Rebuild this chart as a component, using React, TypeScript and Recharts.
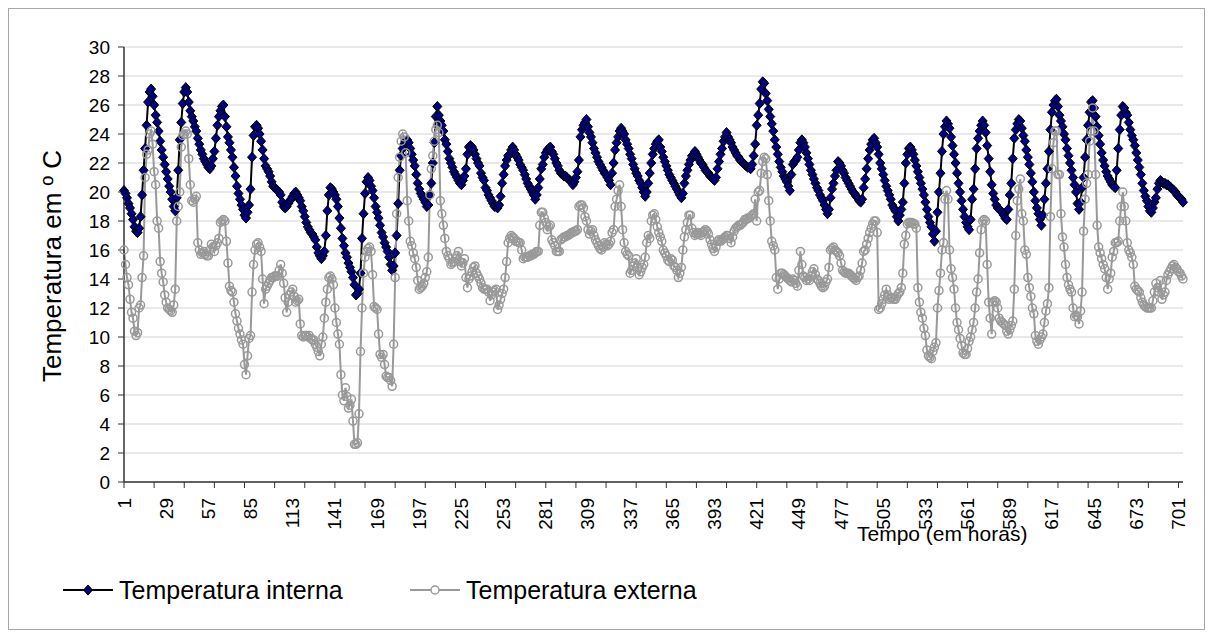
import React from 'react';
import { LineChart, Line, XAxis, YAxis, CartesianGrid } from 'recharts';

// Temperatura interna (°C), one value per hour, hours 1..704
const interna: number[] = [
  20.1, 19.9, 19.6, 19.2, 18.9, 18.5, 18.1, 17.6, 17.3, 17.2,
  17.5, 18.3, 19.8, 21.5, 23.0, 24.6, 26.2, 26.9, 27.1, 26.6,
  26.0, 25.3, 24.8, 24.2, 23.5, 22.9, 22.4, 21.9, 21.4, 20.9,
  20.4, 20.0, 19.5, 19.0, 18.7, 19.6, 21.5, 23.6, 24.8, 26.1,
  26.9, 27.2, 26.9, 26.2, 25.6, 25.2, 24.9, 24.5, 24.2, 23.7,
  23.3, 22.9, 22.6, 22.3, 22.1, 21.9, 21.7, 21.6, 21.8, 22.3,
  22.8, 23.7, 24.6, 25.2, 25.6, 25.9, 26.0, 25.2, 24.5, 23.8,
  23.4, 22.9, 22.4, 21.7, 21.1, 20.4, 19.9, 19.5, 19.1, 18.8,
  18.4, 18.2, 18.6, 19.1, 20.2, 22.4, 23.9, 24.5, 24.6, 24.4,
  24.0, 23.5, 22.9, 22.3, 21.8, 21.6, 21.4, 21.1, 20.7, 20.4,
  20.3, 20.2, 20.1, 20.0, 19.8, 19.3, 19.0, 18.9, 19.0, 19.2,
  19.4, 19.5, 19.7, 19.9, 20.0, 19.8, 19.6, 19.4, 19.0, 18.7,
  18.3, 17.9, 17.6, 17.4, 17.2, 17.1, 16.9, 16.7, 16.2, 15.8,
  15.6, 15.4, 15.6, 15.9, 17.0, 18.7, 19.8, 20.3, 20.2, 20.0,
  19.8, 19.5, 19.0, 18.2, 17.5, 16.8, 16.3, 15.8, 15.5, 15.1,
  14.8, 14.5, 14.1, 13.6, 12.9, 13.0, 13.3, 14.4, 16.8, 18.5,
  19.9, 20.7, 21.0, 20.8, 20.4, 20.1, 19.6, 19.0, 18.6, 18.2,
  17.7, 17.2, 16.9, 16.5, 16.2, 15.9, 15.5, 15.0, 14.6, 14.9,
  15.8, 17.0, 19.2, 21.5, 22.5, 23.0, 23.3, 23.5, 23.6, 23.4,
  23.0, 22.6, 22.2, 21.8, 21.2, 20.6, 20.2, 19.9, 19.7, 19.5,
  19.3, 19.0, 19.1, 19.8, 20.6, 22.0, 23.4, 25.2, 25.9, 25.3,
  24.9, 24.6, 24.2, 23.6, 23.3, 22.8, 22.3, 22.0, 21.7, 21.4,
  21.2, 21.0, 20.8, 20.6, 20.5, 20.8, 21.1, 21.6, 22.6, 23.1,
  23.2, 23.1, 22.9, 22.6, 22.3, 22.0, 21.8, 21.3, 21.0, 20.8,
  20.3, 20.1, 19.8, 19.6, 19.4, 19.2, 19.0, 19.0, 18.9, 19.1,
  19.7, 20.6, 21.2, 21.8, 22.2, 22.5, 22.6, 22.9, 23.1, 22.9,
  22.6, 22.4, 22.2, 21.9, 21.7, 21.5, 21.2, 20.9, 20.6, 20.4,
  20.2, 20.0, 19.8, 19.5, 19.8, 20.3, 20.9, 21.6, 21.9, 22.4,
  22.7, 22.9, 23.0, 23.1, 22.8, 22.6, 22.3, 22.0, 21.8, 21.5,
  21.3, 21.2, 21.1, 21.1, 21.0, 20.9, 20.8, 20.7, 20.5, 20.7,
  21.0, 21.4, 22.2, 23.8, 24.3, 24.6, 24.8, 25.0, 24.5, 24.1,
  23.8, 23.4, 23.0, 22.7, 22.4, 22.1, 21.9, 21.7, 21.5, 21.3,
  21.2, 21.0, 20.8, 20.5, 21.3, 22.0, 22.9, 23.4, 23.8, 24.2,
  24.4, 24.2, 24.0, 23.6, 23.3, 23.0, 22.6, 22.3, 21.9, 21.6,
  21.3, 21.1, 20.8, 20.6, 20.3, 20.0, 19.7, 20.0, 20.6, 21.3,
  22.0, 22.6, 23.0, 23.3, 23.5, 23.6, 23.1, 22.8, 22.4, 22.1,
  21.8, 21.5, 21.2, 21.0, 20.8, 20.6, 20.4, 20.2, 20.0, 19.8,
  19.6, 19.9, 20.6, 21.1, 21.5, 21.9, 22.2, 22.5, 22.6, 22.8,
  22.6, 22.4, 22.2, 22.0, 21.9, 21.7, 21.5, 21.4, 21.3, 21.1,
  21.0, 20.9, 20.8, 21.0, 21.6, 22.1, 22.6, 23.0, 23.5, 23.8,
  24.1, 23.8, 23.6, 23.4, 23.1, 22.9, 22.7, 22.5, 22.4, 22.2,
  22.1, 22.0, 21.9, 21.8, 21.7, 21.7, 21.6, 21.9, 22.5, 23.3,
  24.6, 25.3, 26.1, 27.1, 27.6, 27.5, 26.8, 26.3, 25.7, 25.2,
  24.7, 24.2, 23.6, 23.1, 22.6, 22.1, 21.7, 21.4, 21.1, 20.9,
  20.7, 20.4, 20.1, 21.2, 21.9, 22.1, 22.2, 22.4, 22.9, 23.4,
  23.6, 23.4, 23.1, 22.7, 22.3, 21.9, 21.5, 21.2, 20.9, 20.6,
  20.3, 20.1, 19.8, 19.6, 19.4, 19.1, 18.8, 18.5, 18.8, 19.6,
  20.2, 20.6, 21.1, 21.5, 22.1, 22.0, 21.8, 21.5, 21.3, 21.0,
  20.8, 20.6, 20.4, 20.2, 20.0, 19.9, 19.7, 19.6, 19.4, 19.3,
  19.5, 20.3, 20.9, 21.6, 22.3, 22.9, 23.3, 23.6, 23.7, 23.4,
  23.1, 22.6, 22.0, 21.6, 21.2, 20.8, 20.4, 20.1, 19.8, 19.5,
  19.1, 18.9, 18.7, 18.3, 18.0, 18.4, 18.8, 19.3, 20.6, 22.0,
  22.6, 23.0, 23.1, 22.9, 22.6, 22.2, 21.8, 21.4, 21.0, 20.6,
  20.2, 19.8, 19.3, 18.8, 18.3, 17.9, 17.6, 17.1, 16.6, 17.3,
  18.6, 20.0, 21.3, 22.8, 24.0, 24.5, 24.9, 24.7, 24.4, 23.8,
  23.2, 22.6, 22.0, 21.3, 20.6, 20.0, 19.4, 18.8, 18.3, 17.9,
  17.6, 17.4, 18.1, 19.5, 20.2, 21.6, 23.0, 23.7, 24.2, 24.6,
  24.9, 24.6, 24.1, 23.2, 22.3, 21.4, 20.5, 19.9, 19.5, 19.1,
  18.9, 18.8, 18.7, 18.6, 18.4, 18.2, 18.1, 18.8, 19.8, 20.6,
  22.3, 23.7, 24.3, 24.7, 25.0, 24.9, 24.4, 23.9, 23.5, 22.9,
  22.4, 21.9, 21.3, 20.7, 20.0, 19.4, 18.9, 18.5, 18.1, 17.7,
  18.4, 19.5, 20.6, 21.6, 22.8, 24.3, 25.5, 26.0, 26.3, 26.4,
  25.9, 25.3, 24.9, 24.5, 24.0, 23.6, 23.0, 22.5, 22.0, 21.5,
  21.0, 20.5, 20.0, 19.2, 18.8, 19.3, 20.3, 21.0, 22.4, 23.6,
  24.6, 25.5, 26.2, 26.3, 25.8, 25.2, 24.5, 23.9, 23.3, 22.7,
  22.2, 21.8, 21.4, 21.1, 20.9, 20.7, 20.5, 20.4, 20.3, 21.5,
  23.0, 24.3, 25.3, 25.9, 25.8, 25.5, 25.3, 24.8, 24.3, 23.9,
  23.6, 23.2, 22.7, 22.2, 21.7, 21.2, 20.6, 20.1, 19.7, 19.4,
  19.0, 18.7, 18.6, 18.9, 19.3, 19.6, 20.2, 20.6, 20.8, 20.7,
  20.6, 20.6, 20.5, 20.5, 20.4, 20.3, 20.2, 20.1, 20.0, 19.8,
  19.7, 19.6, 19.5, 19.3,
];

// Temperatura externa (°C), one value per hour, hours 1..704
const externa: number[] = [
  16.0, 15.0, 14.1, 13.6, 12.6, 11.7, 11.3, 10.4, 10.1, 10.3,
  12.0, 12.2, 14.1, 15.6, 21.0, 22.6, 22.9, 24.0, 24.2, 23.3,
  21.4, 20.5, 18.0, 17.5, 15.2, 14.4, 13.8, 12.9, 12.4, 12.0,
  11.9, 11.8, 11.7, 12.2, 13.3, 18.0, 19.0, 20.0, 23.1, 23.9,
  24.0, 24.2, 24.0, 22.3, 20.5, 19.4, 19.3, 19.5, 19.7, 16.5,
  16.0, 15.7, 15.8, 15.9, 15.7, 15.6, 15.6, 16.0, 16.4, 16.2,
  15.9, 16.3, 16.5, 16.8, 17.9, 18.0, 18.1, 18.0, 16.6, 15.1,
  13.5, 13.2, 13.1, 12.4, 11.6, 11.1, 10.6, 10.2, 9.8, 9.5,
  8.1, 7.4, 8.7, 9.9, 10.1, 13.1, 15.0, 16.0, 16.4, 16.5,
  16.2, 15.9, 14.0, 12.3, 13.3, 13.5, 13.7, 13.9, 14.1, 14.1,
  14.2, 14.2, 14.2, 14.6, 15.0, 14.4, 13.7, 12.7, 11.7, 12.4,
  12.9, 13.1, 13.3, 12.8, 12.4, 12.5, 12.6, 10.9, 10.1, 10.0,
  10.1, 10.1, 10.0, 10.1, 9.9, 9.8, 9.8, 9.5, 9.3, 9.0,
  8.7, 9.5, 10.0, 11.3, 12.4, 13.3, 14.1, 14.2, 14.0, 13.6,
  12.0, 11.0, 10.2, 9.5, 7.4, 6.0, 5.6, 6.5, 5.9, 5.1,
  5.3, 5.7, 4.2, 2.6, 2.6, 2.7, 4.7, 9.0, 12.0, 14.4,
  15.5, 15.9, 16.1, 16.2, 15.9, 14.3, 12.1, 12.0, 11.9, 10.2,
  8.8, 8.6, 8.8, 8.1, 7.3, 7.2, 7.2, 7.0, 6.6, 9.5,
  14.1, 18.5, 21.0, 22.4, 23.5, 24.0, 23.8, 22.7, 19.4, 18.0,
  16.6, 16.3, 15.8, 15.4, 14.8, 13.9, 13.3, 13.4, 13.5, 13.7,
  14.1, 14.5, 15.5, 19.8, 21.6, 22.5, 23.5, 24.3, 24.6, 24.1,
  19.4, 18.5, 17.7, 16.8, 15.9, 15.6, 15.4, 15.0, 15.1, 15.2,
  15.4, 15.6, 15.9, 15.2, 14.9, 15.1, 15.4, 14.1, 13.4, 14.0,
  14.2, 14.5, 14.8, 14.9, 14.4, 14.2, 14.0, 13.7, 13.4, 13.3,
  13.3, 13.3, 13.1, 12.5, 12.9, 13.1, 13.2, 13.3, 11.9, 12.2,
  12.6, 13.0, 13.3, 14.1, 15.2, 16.5, 16.8, 17.0, 16.9, 16.8,
  16.6, 16.6, 16.5, 16.5, 16.0, 15.4, 15.5, 15.5, 15.5, 15.6,
  15.6, 15.7, 15.7, 15.8, 15.9, 15.9, 17.7, 18.6, 18.6, 18.2,
  17.9, 17.4, 17.6, 17.7, 16.7, 16.5, 16.3, 15.9, 15.9, 15.9,
  16.7, 16.8, 16.9, 16.9, 17.0, 17.0, 17.1, 17.2, 17.2, 17.3,
  17.3, 17.4, 19.0, 19.1, 19.1, 18.9, 18.3, 18.0, 17.4, 17.1,
  17.3, 17.4, 17.0, 16.7, 16.5, 16.3, 16.1, 16.0, 16.2, 16.5,
  16.4, 16.3, 16.4, 16.6, 17.2, 17.4, 19.0, 19.5, 20.1, 20.5,
  19.0, 17.4, 16.5, 15.9, 15.7, 15.6, 14.4, 14.6, 14.9, 15.1,
  15.4, 14.8, 14.3, 14.5, 14.8, 15.0, 15.5, 16.5, 17.0, 16.8,
  18.0, 18.4, 18.5, 18.1, 17.6, 17.2, 16.9, 16.6, 16.0, 15.8,
  15.6, 15.3, 15.2, 15.4, 15.3, 14.9, 14.8, 14.6, 14.1, 14.4,
  14.8, 16.0, 16.9, 17.4, 17.9, 18.4, 18.4, 17.5, 17.2, 17.0,
  17.1, 17.2, 17.1, 17.0, 17.2, 17.3, 17.4, 17.3, 17.1, 16.7,
  16.4, 16.1, 15.9, 16.2, 16.6, 16.7, 16.6, 16.7, 16.8, 16.9,
  17.0, 17.0, 16.8, 16.5, 16.9, 17.3, 17.5, 17.6, 17.7, 17.7,
  17.8, 17.9, 18.1, 18.1, 18.2, 18.2, 18.3, 18.4, 18.5, 19.5,
  18.0, 20.0, 20.1, 21.3, 22.1, 22.4, 22.3, 21.2, 19.4, 18.0,
  16.6, 16.3, 16.0, 14.1, 13.3, 14.0, 14.4, 14.4, 14.3, 14.2,
  14.1, 14.0, 13.9, 13.8, 14.0, 13.9, 13.7, 13.5, 14.6, 15.9,
  15.0, 14.2, 14.1, 13.9, 14.0, 13.9, 14.2, 14.5, 14.7, 14.3,
  14.0, 13.9, 13.7, 13.5, 13.4, 13.5, 13.8, 14.0, 14.8, 16.0,
  16.1, 16.2, 16.0, 15.9, 15.8, 15.6, 15.1, 14.6, 14.5, 14.4,
  14.4, 14.4, 14.3, 14.2, 14.1, 14.0, 13.9, 14.1, 14.2, 14.6,
  15.1, 15.9, 16.0, 16.4, 16.8, 17.2, 17.5, 17.8, 18.0, 18.0,
  17.2, 11.9, 12.0, 12.3, 12.6, 12.9, 13.3, 12.9, 12.6, 12.7,
  12.7, 12.6, 12.6, 12.8, 13.0, 13.1, 13.4, 14.4, 16.4, 17.0,
  17.8, 17.9, 17.9, 17.9, 17.8, 17.8, 17.5, 13.4, 12.4, 11.7,
  11.3, 10.6, 10.1, 9.1, 8.7, 8.6, 8.5, 9.0, 9.3, 9.6,
  12.0, 13.2, 14.4, 16.0, 16.5, 19.5, 20.1, 19.5, 16.0, 14.7,
  14.1, 13.3, 12.0, 11.0, 10.5, 9.9, 9.4, 8.9, 8.8, 8.8,
  9.2, 9.7, 10.0, 10.5, 11.0, 12.0, 13.1, 14.0, 15.8, 17.4,
  18.0, 18.1, 18.0, 15.0, 12.4, 11.3, 10.2, 12.4, 12.5, 12.4,
  12.0, 11.3, 11.1, 11.0, 10.9, 10.8, 10.4, 10.2, 10.5, 10.8,
  11.1, 13.3, 17.0, 19.4, 20.2, 20.9, 18.5, 18.0, 16.0, 15.7,
  14.1, 13.4, 12.8, 12.0, 11.6, 10.1, 9.7, 9.5, 9.8, 10.0,
  10.2, 11.0, 11.8, 12.3, 13.4, 18.3, 21.6, 23.4, 24.2, 24.2,
  21.2, 21.2, 18.5, 16.9, 16.2, 15.0, 14.1, 13.6, 13.3, 13.1,
  12.0, 11.4, 11.5, 11.4, 10.9, 11.8, 13.1, 17.3, 19.5, 20.6,
  21.2, 23.5, 24.2, 25.8, 24.2, 21.2, 17.7, 16.2, 15.8, 15.4,
  15.0, 14.7, 14.1, 13.3, 14.0, 14.4, 15.5, 15.9, 16.5, 16.5,
  16.6, 18.0, 19.0, 20.0, 19.0, 18.0, 16.5, 16.0, 15.8, 15.5,
  15.0, 13.5, 13.3, 13.2, 13.1, 12.7, 12.4, 12.2, 12.1, 12.0,
  12.0, 12.0, 12.0, 12.5, 13.1, 13.7, 13.4, 13.1, 13.9, 12.6,
  12.9, 13.1, 13.9, 14.3, 14.5, 14.7, 14.9, 15.0, 14.8, 14.7,
  14.5, 14.4, 14.2, 14.0,
];

const yTicks = [0, 2, 4, 6, 8, 10, 12, 14, 16, 18, 20, 22, 24, 26, 28, 30];
const LABEL_STEP = 28; // hour labels 1, 29, 57, ...
const MARK_STEP = 20; // tick marks every 20 hours

const FONT = '"Liberation Sans", Arial, Helvetica, sans-serif';

const n = Math.min(interna.length, externa.length);
const data = Array.from({ length: n }, (_, i) => ({
  hora: i + 1,
  interna: interna[i],
  externa: externa[i],
}));
const xTicks = data
  .map((d) => d.hora)
  .filter((h) => (h - 1) % LABEL_STEP === 0 || (h - 1) % MARK_STEP === 0);

const TICK_SIZE = 6;
const TICK_MARGIN = 10;

function XTick(props: any) {
  const { x, y, payload } = props;
  const h = payload.value as number;
  const axisY = y - TICK_SIZE - TICK_MARGIN;
  const showMark = (h - 1) % MARK_STEP === 0;
  const showLabel = (h - 1) % LABEL_STEP === 0;
  return (
    <g>
      {showMark && (
        <line x1={x} x2={x} y1={axisY} y2={axisY + TICK_SIZE} stroke="#333" strokeWidth={1} />
      )}
      {showLabel && (
        <text
          x={x}
          y={y}
          transform={`rotate(-90, ${x}, ${y})`}
          textAnchor="end"
          dominantBaseline="central"
          fontSize={19}
          fontFamily={FONT}
          fill="#000"
        >
          {h}
        </text>
      )}
    </g>
  );
}

function Diamond(props: any) {
  const { cx, cy, index } = props;
  if (cx == null || cy == null) return <g key={`d${index}`} />;
  return (
    <path
      key={`d${index}`}
      d={`M${cx},${cy - 5}L${cx + 4.5},${cy}L${cx},${cy + 5}L${cx - 4.5},${cy}Z`}
      fill="#000080"
      stroke="#000"
      strokeWidth={1}
    />
  );
}

function Ring(props: any) {
  const { cx, cy, index } = props;
  if (cx == null || cy == null) return <g key={`c${index}`} />;
  return <circle key={`c${index}`} cx={cx} cy={cy} r={4} fill="none" stroke="#999" strokeWidth={1.5} />;
}

export default function App() {
  return (
    <div
      style={{
        position: 'relative',
        width: 1197,
        height: 622,
        boxSizing: 'border-box',
        border: '1px solid #a6a6a6',
        background: '#fff',
        fontFamily: FONT,
      }}
    >
      <LineChart
        width={1195}
        height={620}
        data={data}
        margin={{ top: 38, right: 21, left: 55, bottom: 87 }}
      >
        <CartesianGrid horizontal vertical={false} stroke="#d4d4d4" strokeWidth={1} />
        <XAxis
          dataKey="hora"
          type="category"
          ticks={xTicks}
          interval={0}
          height={60}
          tickSize={TICK_SIZE}
          tickMargin={TICK_MARGIN}
          tickLine={false}
          axisLine={{ stroke: '#333', strokeWidth: 1.5 }}
          tick={<XTick />}
        />
        <YAxis
          domain={[0, 30]}
          ticks={yTicks}
          interval={0}
          width={60}
          tickSize={6}
          tickMargin={8}
          tickLine={{ stroke: '#333' }}
          axisLine={{ stroke: '#333', strokeWidth: 1.5 }}
          tick={{ fontSize: 19, fill: '#000', fontFamily: FONT }}
        />
        <Line
          dataKey="interna"
          stroke="#000"
          strokeWidth={2}
          dot={(p: any) => <Diamond key={`d${p.index}`} {...p} />}
          activeDot={false}
          isAnimationActive={false}
        />
        <Line
          dataKey="externa"
          stroke="#999"
          strokeWidth={2}
          dot={(p: any) => <Ring key={`c${p.index}`} {...p} />}
          activeDot={false}
          isAnimationActive={false}
        />
      </LineChart>

      {/* Axis titles */}
      <div
        style={{
          position: 'absolute',
          left: 43,
          top: 257,
          transform: 'translate(-50%, -50%) rotate(-90deg)',
          fontSize: 26,
          whiteSpace: 'nowrap',
          color: '#000',
        }}
      >
        Temperatura em º C
      </div>
      <div
        style={{
          position: 'absolute',
          left: 848,
          top: 513,
          fontSize: 21,
          whiteSpace: 'nowrap',
          color: '#000',
        }}
      >
        Tempo (em horas)
      </div>

      {/* Legend */}
      <div style={{ position: 'absolute', left: 52, top: 566, display: 'flex', alignItems: 'center', height: 30 }}>
        <svg width={54} height={20} style={{ display: 'block' }}>
          <line x1={2} x2={52} y1={10} y2={10} stroke="#000" strokeWidth={2} />
          <path d="M27,5L31.5,10L27,15L22.5,10Z" fill="#000080" stroke="#000" strokeWidth={1} />
        </svg>
        <span style={{ fontSize: 25, marginLeft: 4, whiteSpace: 'nowrap' }}>Temperatura interna</span>
      </div>
      <div style={{ position: 'absolute', left: 399, top: 566, display: 'flex', alignItems: 'center', height: 30 }}>
        <svg width={54} height={20} style={{ display: 'block' }}>
          <line x1={2} x2={52} y1={10} y2={10} stroke="#999" strokeWidth={2} />
          <circle cx={27} cy={10} r={4} fill="#fff" stroke="#999" strokeWidth={1.5} />
        </svg>
        <span style={{ fontSize: 25, marginLeft: 4, whiteSpace: 'nowrap' }}>Temperatura externa</span>
      </div>
    </div>
  );
}
